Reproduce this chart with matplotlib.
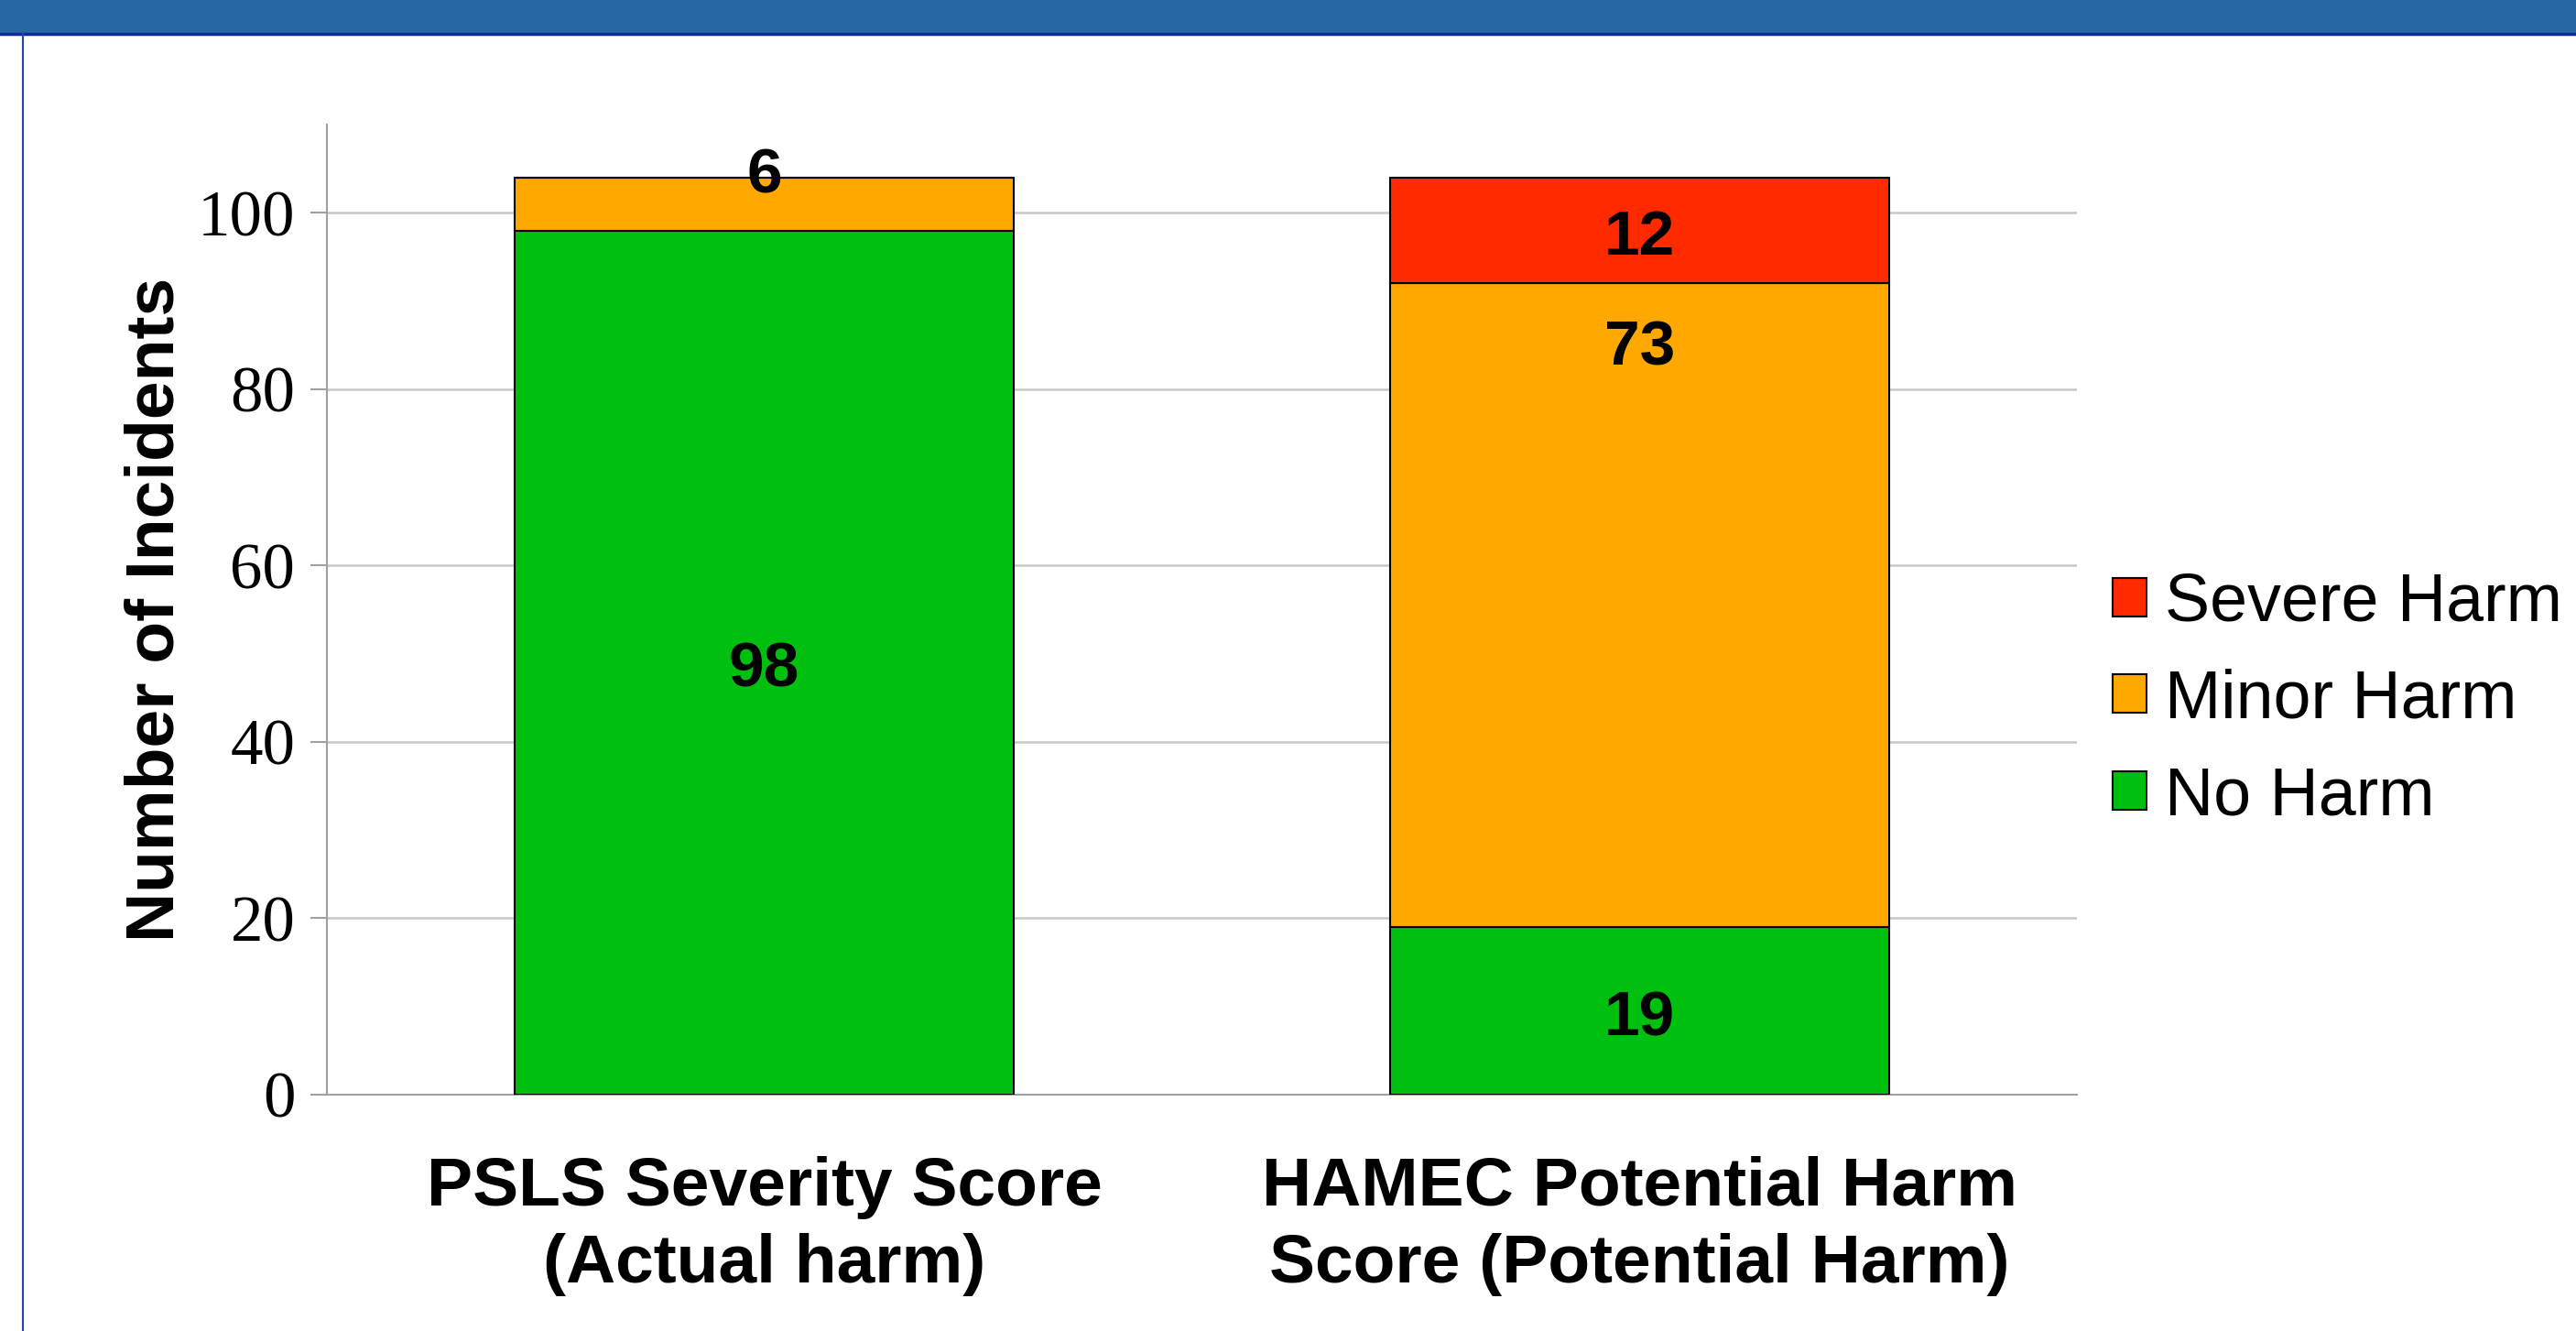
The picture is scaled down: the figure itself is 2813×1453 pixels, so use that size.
import matplotlib
matplotlib.use("Agg")
import matplotlib.pyplot as plt
from matplotlib.patches import Rectangle, Patch
from matplotlib.lines import Line2D

# Data
categories = ["PSLS Severity Score\n(Actual harm)",
              "HAMEC Potential Harm\nScore (Potential Harm)"]
no_harm = [98, 19]
minor_harm = [6, 73]
severe_harm = [0, 12]
series_names = ["No Harm", "Minor Harm", "Severe Harm"]
series_colors = ["#00C00F", "#FFA800", "#FF2A00"]
y_ticks = [0, 20, 40, 60, 80, 100]

W, H = 2813, 1453
fig = plt.figure(figsize=(W / 100, H / 100), dpi=100)
ax = fig.add_axes([357 / W, 1 - 1195 / H, (2268 - 357) / W, (1195 - 136) / H])

x = list(range(len(categories)))
series = [no_harm, minor_harm, severe_harm]
bottoms = [0] * len(categories)
for s_idx, (vals, color) in enumerate(zip(series, series_colors)):
    ax.bar(x, vals, width=0.57, bottom=bottoms, color=color,
           edgecolor="black", linewidth=1.5, zorder=3)
    for i, v in enumerate(vals):
        if v == 0:
            continue
        yc = bottoms[i] + v / 2 - 0.9
        # labels the original chart pushed off-centre
        if s_idx == 1 and i == 0:
            yc = bottoms[i] + v + 0.1
        elif s_idx == 1 and i == 1:
            yc = bottoms[i] + v - 7.4
        ax.text(i, yc, str(v), ha="center", va="center", fontsize=50,
                fontweight="bold", family="Liberation Sans", zorder=4)
    bottoms = [b + v for b, v in zip(bottoms, vals)]

ax.set_xlim(-0.5, 1.5)
ax.set_ylim(0, 110)
ax.set_yticks(y_ticks)
ax.set_yticklabels([str(t) for t in y_ticks], family="Liberation Serif", fontsize=51)
ax.set_xticks(x)
ax.set_xticklabels(categories, family="Liberation Sans", fontsize=54,
                   fontweight="bold", linespacing=1.28)
ax.tick_params(axis="x", length=0, pad=48)
ax.tick_params(axis="y", length=13, width=1.5, color="#A0A0A0", pad=12)
ax.yaxis.grid(True, color="#C8C8C8", linewidth=1.8, zorder=0)
ax.set_axisbelow(True)
for s in ["top", "right"]:
    ax.spines[s].set_visible(False)
for s in ["left", "bottom"]:
    ax.spines[s].set_color("#A0A0A0")
    ax.spines[s].set_linewidth(1.5)

ax.set_ylabel("Number of Incidents", family="Liberation Sans", fontsize=54,
              fontweight="bold")
ax.yaxis.set_label_coords(-0.080, 0.5)

handles = [Patch(facecolor=c, edgecolor="black", linewidth=1.5)
           for c in series_colors][::-1]
fig.legend(handles, series_names[::-1], loc="center left",
           bbox_to_anchor=(2307 / W, 1 - 764 / H), frameon=False,
           prop={"family": "Liberation Sans", "size": 53},
           handlelength=0.5, handleheight=0.5, handletextpad=0.27,
           labelspacing=0.5, borderpad=0, borderaxespad=0)

# slide header band and left border
fig.patches.append(Rectangle((0, 1 - 36 / H), 1, 36 / H, transform=fig.transFigure,
                             facecolor="#2768A4", edgecolor="none", zorder=5))
fig.lines.append(Line2D([0, 1], [1 - 37 / H, 1 - 37 / H], transform=fig.transFigure,
                        color="#0B2D9A", linewidth=2.5, zorder=6))
fig.lines.append(Line2D([25 / W, 25 / W], [0, 1 - 37 / H], transform=fig.transFigure,
                        color="#2B3FC0", linewidth=1.5, zorder=6))

fig.savefig("out.png", dpi=100)
